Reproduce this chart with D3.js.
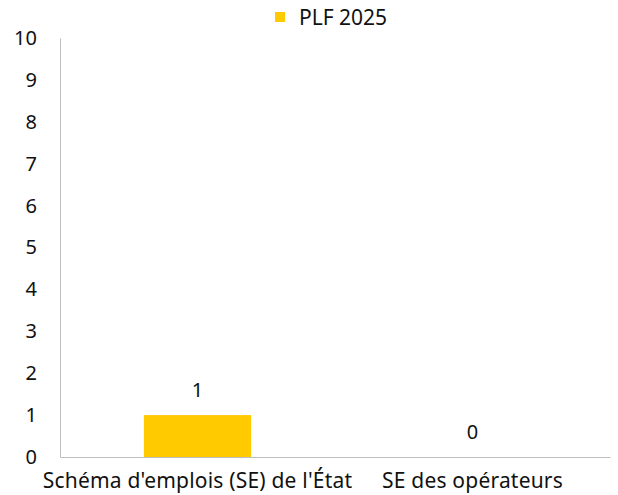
<!DOCTYPE html>
<html><head><meta charset="utf-8">
<script src="https://cdn.jsdelivr.net/npm/d3@7"></script>
<style>body{margin:0;background:#fff}svg{display:block;font-family:"Noto Sans",sans-serif}</style>
</head><body><svg id="c" width="618" height="495"></svg>
<script>
const categories = ["Schéma d'emplois (SE) de l'État", "SE des opérateurs"];
const seriesName = "PLF 2025";
const values = [1, 0];
const yTicks = [0,1,2,3,4,5,6,7,8,9,10];
const color = "#FFCA00";

const svg = d3.select("#c");
const m = {l:60, r:8, t:38, b:38};
const W = 618, H = 495;
const x = d3.scaleBand().domain(categories).range([m.l, W - m.r]).paddingInner(0.61).paddingOuter(0.305);
const y = d3.scaleLinear().domain([0,10]).range([H - m.b, m.t]);

svg.append("g").selectAll("rect").data(values).join("rect")
  .attr("x",(d,i)=>x(categories[i])).attr("width",x.bandwidth())
  .attr("y",d=>y(d)).attr("height",d=>y(0)-y(d)).attr("fill",color);

const ya = svg.append("g").attr("transform",`translate(${m.l},0)`)
  .call(d3.axisLeft(y).tickValues(yTicks).tickSize(0).tickPadding(23));
ya.select(".domain").attr("stroke","#bfbfbf");
ya.selectAll("text").attr("font-size",20).attr("fill","#111").attr("font-family","Noto Sans");

const xa = svg.append("g").attr("transform",`translate(0,${y(0)})`)
  .call(d3.axisBottom(x).tickSize(0).tickPadding(16));
xa.select(".domain").attr("stroke","#bfbfbf");
xa.selectAll("text").attr("font-size",21).attr("fill","#111").attr("font-family","Noto Sans").attr("letter-spacing",0.2);

svg.append("g").selectAll("text").data(values).join("text")
  .attr("x",(d,i)=>x(categories[i])+x.bandwidth()/2)
  .attr("y",d=>y(d)-18).attr("text-anchor","middle").attr("fill","#111")
  .attr("font-size",20).text(d=>d);

const lg = svg.append("g");
lg.append("rect").attr("x",275).attr("y",12).attr("width",10).attr("height",10).attr("fill",color);
lg.append("text").attr("x",299).attr("y",25).attr("font-size",21).attr("fill","#111").text(seriesName);
</script></body></html>
